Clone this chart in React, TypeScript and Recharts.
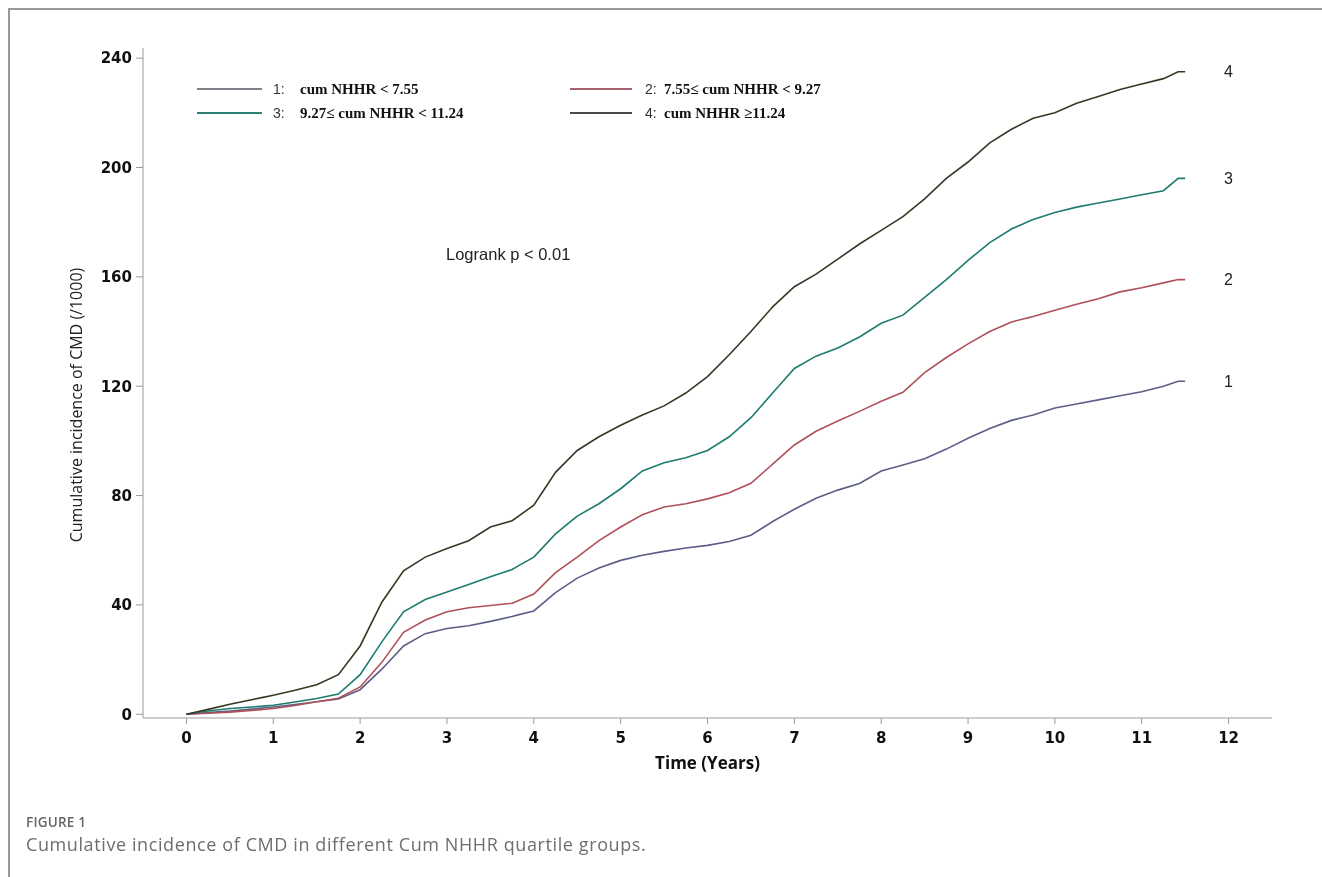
import React from 'react';
import { LineChart, Line, XAxis, YAxis, ReferenceDot } from 'recharts';

// time points (years)
const years = [
  0, 0.25, 0.5, 0.75, 1, 1.25, 1.5, 1.75, 2, 2.25, 2.5, 2.75, 3, 3.25, 3.5, 3.75,
  4, 4.25, 4.5, 4.75, 5, 5.25, 5.5, 5.75, 6, 6.25, 6.5, 6.75, 7, 7.25, 7.5, 7.75,
  8, 8.25, 8.5, 8.75, 9, 9.25, 9.5, 9.75, 10, 10.25, 10.5, 10.75, 11, 11.25, 11.42, 11.5,
];

// cumulative incidence of CMD (/1000) per quartile group
const q1 = [
  0, 0.6, 1.2, 1.9, 2.7, 3.6, 4.6, 5.6, 9, 16.5, 25, 29.5, 31.4, 32.4, 34, 35.8,
  37.8, 44.5, 49.8, 53.5, 56.3, 58.2, 59.6, 60.8, 61.8, 63.2, 65.5, 70.5, 75, 79, 82, 84.4,
  89, 91.2, 93.5, 97, 101, 104.5, 107.5, 109.5, 112, 113.5, 115, 116.5, 118, 120, 121.8, 121.8,
];
const q2 = [
  0, 0.4, 0.8, 1.4, 2.1, 3.2, 4.6, 5.9, 10, 19, 30, 34.5, 37.5, 39, 39.8, 40.6,
  44, 51.8, 57.5, 63.5, 68.5, 73, 75.8, 77, 78.8, 81, 84.5, 91.5, 98.5, 103.5, 107.3, 110.8,
  114.5, 117.8, 125, 130.5, 135.5, 140, 143.5, 145.5, 147.8, 150, 152, 154.5, 156, 157.8, 159, 159,
];
const q3 = [
  0, 1.2, 2.1, 2.7, 3.3, 4.5, 5.8, 7.4, 14.5, 26.5, 37.5, 42, 44.7, 47.5, 50.3, 53,
  57.5, 66, 72.5, 77, 82.5, 89, 92, 93.8, 96.5, 101.5, 108.5, 117.5, 126.5, 131, 134, 138,
  143, 146, 152.5, 159, 166, 172.5, 177.5, 181, 183.5, 185.5, 187, 188.5, 190, 191.5, 196, 196,
];
const q4 = [
  0, 1.8, 3.7, 5.3, 7, 8.8, 10.8, 14.5, 25, 41, 52.5, 57.5, 60.6, 63.5, 68.5, 70.8,
  76.5, 88.5, 96.5, 101.5, 105.7, 109.5, 112.8, 117.5, 123.5, 131.5, 140, 149, 156.4, 161, 166.5, 172,
  177, 182, 188.5, 196, 202, 209, 214, 218, 220, 223.5, 226, 228.5, 230.5, 232.5, 235, 235,
];

const xTicks = [0, 1, 2, 3, 4, 5, 6, 7, 8, 9, 10, 11, 12];
const yTicks = [0, 40, 80, 120, 160, 200, 240];

const groupKeys = ['q1', 'q2', 'q3', 'q4'];
const groupNums = ['1', '2', '3', '4'];
const groupLabels = [
  'cum NHHR < 7.55',
  '7.55\u2264 cum NHHR < 9.27',
  '9.27\u2264 cum NHHR < 11.24',
  'cum NHHR \u226511.24',
];
const lineColors = ['#5b5f86', '#b0505a', '#1e7b6f', '#3b3523'];
const legendColors = ['#7c8088', '#a3626c', '#2f7f75', '#4a4a46'];

const series = [q1, q2, q3, q4];
const data = years.map((t, i) => ({ t, q1: q1[i], q2: q2[i], q3: q3[i], q4: q4[i] }));

const tickStyle = { fontFamily: 'DejaVu Sans', fontWeight: 'bold' as const, fontSize: 15, fill: '#111' };

// legend slots: [lineLeft, lineWidth, numLeft, textLeft, y]
const legendPos = [
  [189, 65, 265, 292, 81],
  [562, 62, 637, 656, 81],
  [189, 65, 265, 292, 105],
  [562, 62, 637, 656, 105],
];

export default function App() {
  return (
    <div style={{ position: 'relative', width: 1306, height: 861 }}>
      <div
        style={{
          position: 'fixed', top: 8, left: 8, right: 0, bottom: 0,
          borderTop: '2px solid #9a9a9a', borderLeft: '2px solid #9a9a9a',
        }}
      />
      <LineChart width={1306} height={800} data={data} margin={{ top: 40, right: 42, bottom: 30, left: 0 }}>
        <XAxis
          dataKey="t"
          type="number"
          domain={[-0.5, 12.5]}
          ticks={xTicks}
          allowDataOverflow
          height={60}
          stroke="#9a9a9a"
          tickSize={6}
          tickMargin={8}
          tick={tickStyle}
        />
        <YAxis
          type="number"
          domain={[-1.35, 243.7]}
          ticks={yTicks}
          allowDataOverflow
          width={135}
          stroke="#9a9a9a"
          tickSize={7}
          tickMargin={4}
          tick={tickStyle}
        />
        {groupKeys.map((k, i) => (
          <Line
            key={k}
            dataKey={k}
            type="linear"
            stroke={lineColors[i]}
            strokeWidth={1.6}
            dot={false}
            isAnimationActive={false}
          />
        ))}
        {series.map((s, i) => (
          <ReferenceDot
            key={'end' + i}
            x={12}
            y={s[s.length - 1]}
            r={0}
            stroke="none"
            fill="none"
            label={{
              value: groupNums[i],
              position: 'center',
              fill: '#222',
              fontSize: 16,
              fontFamily: 'Liberation Sans',
            }}
          />
        ))}
      </LineChart>

      {/* legend */}
      {legendPos.map((p, i) => (
        <React.Fragment key={'lg' + i}>
          <div style={{ position: 'absolute', left: p[0], top: p[4] - 1, width: p[1], height: 2, background: legendColors[i] }} />
          <div
            style={{
              position: 'absolute', left: p[2], top: p[4] - 10, height: 20, lineHeight: '20px',
              fontFamily: 'Liberation Sans', fontSize: 14, color: '#333',
            }}
          >
            {groupNums[i]}:
          </div>
          <div
            style={{
              position: 'absolute', left: p[3], top: p[4] - 10, height: 20, lineHeight: '20px', whiteSpace: 'nowrap',
              fontFamily: 'Liberation Serif', fontWeight: 'bold', fontSize: 15, color: '#111',
            }}
          >
            {groupLabels[i]}
          </div>
        </React.Fragment>
      ))}

      <div
        style={{
          position: 'absolute', left: 438, top: 237, fontFamily: 'Liberation Sans', fontSize: 16.5, color: '#222',
          whiteSpace: 'nowrap',
        }}
      >
        Logrank p &lt; 0.01
      </div>

      <div
        style={{
          position: 'absolute', left: 68, top: 397, transform: 'translate(-50%, -50%) rotate(-90deg)',
          fontFamily: 'Open Sans', fontSize: 16, color: '#222', whiteSpace: 'nowrap',
        }}
      >
        Cumulative incidence of CMD (/1000)
      </div>

      <div
        style={{
          position: 'absolute', left: 699.5, top: 754, transform: 'translate(-50%, -50%)',
          fontFamily: 'Open Sans', fontWeight: 'bold', fontSize: 17, color: '#111', whiteSpace: 'nowrap',
        }}
      >
        Time (Years)
      </div>

      <div
        style={{
          position: 'absolute', left: 18, top: 805, fontFamily: 'Open Sans', fontWeight: 600, fontSize: 13.5,
          color: '#666', letterSpacing: 0.2,
        }}
      >
        FIGURE 1
      </div>
      <div
        style={{
          position: 'absolute', left: 18, top: 824, fontFamily: 'Open Sans', fontSize: 18, color: '#6e6e6e',
          whiteSpace: 'nowrap', letterSpacing: 0.6,
        }}
      >
        Cumulative incidence of CMD in different Cum NHHR quartile groups.
      </div>
    </div>
  );
}
